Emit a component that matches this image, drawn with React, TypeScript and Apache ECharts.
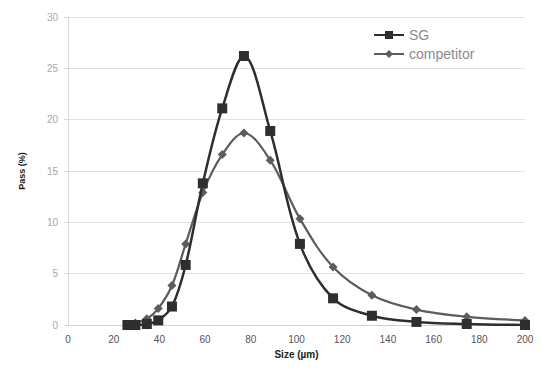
import React, { useEffect, useRef } from "react";
import * as echarts from "echarts";

const sizes = [26, 29.5, 34.5, 39.5, 45.5, 51.5, 59, 67.5, 77, 88.5, 101.5, 116, 133, 152.5, 174.5, 200];
const sgValues = [0, 0, 0.1, 0.45, 1.8, 5.85, 13.8, 21.1, 26.2, 18.9, 7.9, 2.6, 0.9, 0.3, 0.1, 0.0];
const competitorValues = [0, 0.2, 0.6, 1.6, 3.85, 7.9, 12.9, 16.6, 18.7, 16.05, 10.35, 5.65, 2.9, 1.5, 0.8, 0.45];
const seriesNames = ["SG", "competitor"];

export default function App() {
  const ref = useRef<HTMLDivElement>(null);
  useEffect(() => {
    if (!ref.current) return;
    const chart = echarts.init(ref.current, undefined, { renderer: "svg" });
    const pair = (vals: number[]) => sizes.map((s, i) => [s, vals[i]]);
    chart.setOption({
      animation: false,
      backgroundColor: "#ffffff",
      grid: { left: 68, right: 35, top: 17, bottom: 54, containLabel: false },
      legend: {
        orient: "vertical",
        left: 368,
        top: 23,
        itemWidth: 30,
        itemHeight: 10,
        itemGap: 5,
        textStyle: { color: "#8a8a8a", fontSize: 14, fontFamily: "Liberation Sans" },
        data: seriesNames,
      },
      xAxis: {
        type: "value",
        min: 0,
        max: 200,
        interval: 20,
        name: "Size (µm)",
        nameLocation: "middle",
        nameGap: 24,
        nameTextStyle: { color: "#222", fontSize: 10, fontWeight: "bold", fontFamily: "Liberation Sans" },
        axisLine: { show: true, lineStyle: { color: "#d0d0d0", width: 1 } },
        axisTick: { show: false },
        axisLabel: { color: "#555", fontSize: 10, fontFamily: "Liberation Sans", margin: 9 },
        splitLine: { show: false },
      },
      yAxis: {
        type: "value",
        min: 0,
        max: 30,
        interval: 5,
        name: "Pass (%)",
        nameLocation: "middle",
        nameGap: 42,
        nameTextStyle: { color: "#222", fontSize: 9, fontWeight: "bold", fontFamily: "Liberation Sans" },
        axisLine: { show: true, lineStyle: { color: "#d8d8d8", width: 1 } },
        axisTick: { show: true, length: 4, lineStyle: { color: "#d8d8d8" } },
        axisLabel: { color: "#a8a8a8", fontSize: 10, fontFamily: "Liberation Sans", margin: 10 },
        splitLine: { show: true, lineStyle: { color: "#e2e2e2", width: 1 } },
      },
      series: [
        {
          name: seriesNames[0],
          type: "line",
          data: pair(sgValues),
          smooth: 0.35,
          symbol: "rect",
          symbolSize: 10,
          lineStyle: { color: "#2e2e2e", width: 2.5 },
          itemStyle: { color: "#2e2e2e" },
          z: 3,
        },
        {
          name: seriesNames[1],
          type: "line",
          data: pair(competitorValues),
          smooth: 0.35,
          symbol: "diamond",
          symbolSize: 9,
          lineStyle: { color: "#5c5c5c", width: 2.2 },
          itemStyle: { color: "#5c5c5c" },
          z: 2,
        },
      ],
    });
    return () => chart.dispose();
  }, []);
  return <div ref={ref} style={{ position: "fixed", left: 0, top: 0, width: 560, height: 379 }} />;
}
